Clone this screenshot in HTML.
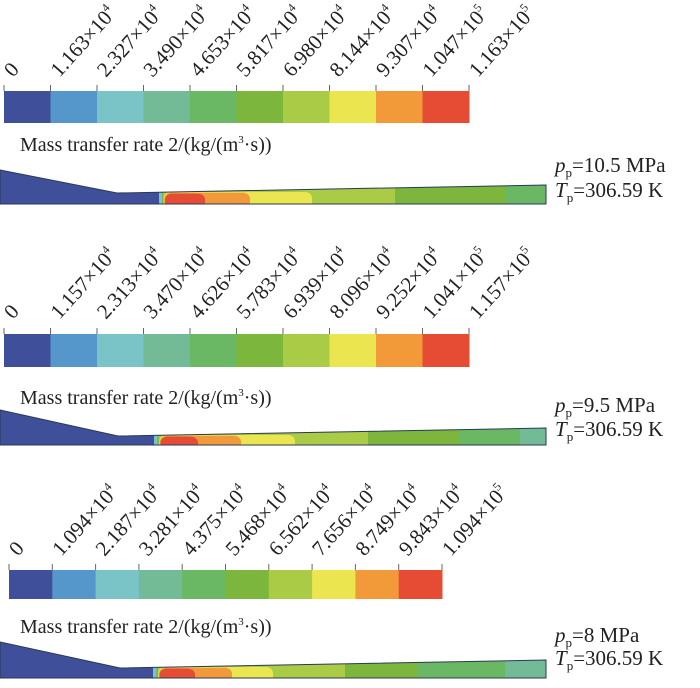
<!DOCTYPE html>
<html><head><meta charset="utf-8"><style>
html,body{margin:0;padding:0;background:#fff;}
svg{display:block;font-family:"Liberation Serif",serif;}
</style></head><body>
<svg id="fig" width="700" height="688" viewBox="0 0 700 688" xmlns="http://www.w3.org/2000/svg"></svg>
<script>
const colors=["#3f4f99","#5596cb","#7ac4c8","#73bb96","#6ab864","#7db63c","#aacb45","#ebe54f","#f29a3a","#e54c33"];
const labels1=["0","1.163|4","2.327|4","3.490|4","4.653|4","5.817|4","6.980|4","8.144|4","9.307|4","1.047|5","1.163|5"];
const labels2=["0","1.157|4","2.313|4","3.470|4","4.626|4","5.783|4","6.939|4","8.096|4","9.252|4","1.041|5","1.157|5"];
const labels3=["0","1.094|4","2.187|4","3.281|4","4.375|4","5.468|4","6.562|4","7.656|4","8.749|4","9.843|4","1.094|5"];
const pressures=["10.5","9.5","8"];
// contour right extents per color level (level index, x-extent)
const levels1=[4,5,6,7,8,9];
const extents1=[546,505,395,312,250,205];
const levels2=[3,4,5,6,7,8,9];
const extents2=[546,520,460,368,295,241,198];
const levels3=[3,4,5,6,7,8,9];
const extents3=[546,505,418,345,273,232,195];

const NS="http://www.w3.org/2000/svg";
const svg=document.getElementById('fig');
function mk(tag,attrs,parent){const e=document.createElementNS(NS,tag);for(const k in attrs)e.setAttribute(k,attrs[k]);(parent||svg).appendChild(e);return e;}

const panels=[
 {labels:labels1,bx0:4,bx1:469,by:91,bh:32,lb:78,ty:151,g:{y0:170,yk:193,yb:204,xk:117,yr:185,xs:164},lv:levels1,ex:extents1,p:pressures[0],py:172,ty2:197},
 {labels:labels2,bx0:4,bx1:469,by:334,bh:33,lb:320,ty:404,g:{y0:410,yk:436,yb:445,xk:118,yr:428,xs:159},lv:levels2,ex:extents2,p:pressures[1],py:412,ty2:436},
 {labels:labels3,bx0:9,bx1:442,by:570,bh:29,lb:557,ty:633,g:{y0:642,yk:668,yb:678,xk:120,yr:660,xs:158},lv:levels3,ex:extents3,p:pressures[2],py:642,ty2:665}
];

panels.forEach((P,pi)=>{
 const grp=mk('g',{});
 
 
 const n=colors.length, w=(P.bx1-P.bx0)/n;
 const xs=i=>P.bx0+i*w;
 colors.forEach((c,i)=>{
  const r=mk('rect',{x:xs(i),y:P.by,width:w+0.5,height:P.bh,fill:c},grp);
  
  
 });
 P.labels.forEach((lab,i)=>{
  const x=xs(i);
  const tk=mk('line',{x1:x,y1:P.by-6,x2:x,y2:P.by,stroke:'#666','stroke-width':1},grp);
  
  
  const t=mk('text',{x:0,y:0,'font-size':21,fill:'#222',transform:`translate(${x+9},${P.lb}) rotate(-48)`},grp);
  
  
  if(lab.indexOf('|')<0){t.textContent=lab;}
  else{const [m,e]=lab.split('|');
   const a=document.createElementNS(NS,'tspan');a.textContent=m+'×10';t.appendChild(a);
   const s=document.createElementNS(NS,'tspan');s.setAttribute('dy','-9');s.setAttribute('font-size','12');s.textContent=e;t.appendChild(s);}
 });
 const title=mk('text',{x:20,y:P.ty,'font-size':20,fill:'#222'},grp);
 
 
 title.innerHTML='Mass transfer rate 2/(kg/(m<tspan dy="-8" font-size="11">3</tspan><tspan dy="8">·s))</tspan>';
 // geometry
 const g=P.g;
 const cid='clip'+pi;
 const cp=mk('clipPath',{id:cid},grp);
 const poly=`0,${g.y0} ${g.xk},${g.yk} 546,${g.yr} 546,${g.yb} 0,${g.yb}`;
 mk('polygon',{points:poly},cp);
 const cg=mk('g',{'clip-path':`url(#${cid})`},grp);
 mk('rect',{x:0,y:g.y0-5,width:548,height:g.yb-g.y0+5,fill:colors[0]},cg);
 mk('rect',{x:g.xs-5,y:g.yk-4,width:10,height:g.yb-g.yk+6,rx:4,fill:colors[2]},cg);
 P.lv.forEach((lv,k)=>{
  const x0=g.xs-2+k*0.6, x1=P.ex[k];
  const top=(lv>=7)? g.yk-1+ (lv-7)*0.8 : g.y0-5;
  const r=mk('rect',{x:x0,y:top,width:x1-x0,height:g.yb-top+8,rx:7,ry:6,fill:colors[lv]},cg);
  
  
 });
 const ol=mk('polygon',{points:poly,fill:'none',stroke:'#2a3a55','stroke-width':1},grp);
 
 
 const t1=mk('text',{x:555,y:P.py,'font-size':21,fill:'#222'},grp);
 
 
 t1.innerHTML=`<tspan font-style="italic">p</tspan><tspan font-size="13" dy="5">p</tspan><tspan dy="-5">=${P.p} MPa</tspan>`;
 const t2=mk('text',{x:555,y:P.ty2,'font-size':21,fill:'#222'},grp);
 
 
 t2.innerHTML=`<tspan font-style="italic">T</tspan><tspan font-size="13" dy="5">p</tspan><tspan dy="-5">=306.59 K</tspan>`;
});
</script>
</body></html>
